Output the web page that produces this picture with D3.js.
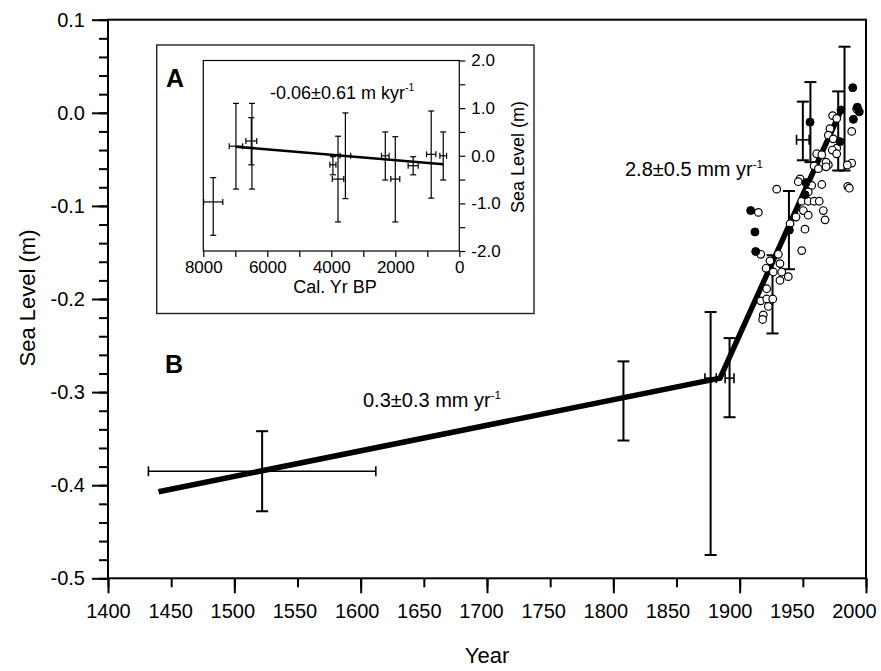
<!DOCTYPE html>
<html><head><meta charset="utf-8">
<script src="https://cdn.jsdelivr.net/npm/d3@7"></script>
<style>
body{margin:0;background:#fff;}
svg{display:block;font-family:"Liberation Sans",Arial,Helvetica,sans-serif;}
</style></head><body>
<svg id="chart" width="881" height="671"></svg>
<script>
// ---------- Main panel (B) data ----------
const openYear  = [1973.6,1976.8,1971.5,1970.2,1974.1,1976.8,1973.3,1992.6,1988.7,1988.7,1961.0,1965.0,1958.9,1962.3,1970.2,1947.8,1968.4,1968.4,1985.2,1985.5,1986.8,1946.4,1929.3,1965.0,1957.0,1954.3,1949.1,1954.3,1958.9,1963.0,1950.4,1954.3,1944.6,1966.2,1967.6,1914.8,1939.9,1951.7,1949.1,1916.7,1924.0,1930.6,1920.9,1931.9,1926.6,1933.3,1938.5,1931.9,1921.4,1916.7,1921.4,1926.2,1922.7,1918.7,1918.2,1976.8];
const openLevel = [-0.003,-0.006,-0.017,-0.024,-0.028,-0.038,-0.040,0.004,-0.020,-0.054,-0.044,-0.045,-0.057,-0.060,-0.056,-0.071,-0.053,-0.058,-0.056,-0.079,-0.081,-0.074,-0.082,-0.077,-0.078,-0.085,-0.095,-0.095,-0.095,-0.095,-0.105,-0.110,-0.112,-0.105,-0.115,-0.107,-0.119,-0.125,-0.148,-0.152,-0.159,-0.152,-0.167,-0.162,-0.171,-0.171,-0.176,-0.180,-0.189,-0.202,-0.200,-0.200,-0.208,-0.217,-0.222,-0.044];
const filledYear  = [1989.5,1993.1,1994.7,1990.0,1980.2,1955.7,1979.4,1908.7,1912.1,1912.7,1952.5,1951.7,1939.3];
const filledLevel = [0.027,0.006,0.001,-0.007,0.003,-0.010,-0.031,-0.105,-0.128,-0.149,-0.075,-0.088,-0.126];

const ebYear    = [1522, 1808, 1877, 1892, 1926, 1939, 1950, 1956, 1978, 1983];
const ebLevel   = [-0.385,-0.309,-0.285,-0.285,-0.195,-0.126,-0.029,-0.010,-0.020,0.005];
const ebLow     = [-0.428,-0.352,-0.475,-0.327,-0.237,-0.168,-0.051,-0.053,-0.062,-0.062];
const ebHigh    = [-0.342,-0.267,-0.214,-0.242,-0.153,-0.084,0.012,0.033,0.023,0.071];
const ebYearErr = [90, 0, 4.5, 3.5, 0, 0, 5, 0, 0, 0];

const trendYear  = [1440, 1884.5, 1981];
const trendLevel = [-0.407, -0.285, 0.005];

const xTickLabels = [1400,1450,1500,1550,1600,1650,1700,1750,1800,1850,1900,1950,2000];
const xMajorTicks = [1400,1500,1600,1700,1800,1900,2000];
const yTickLabels = [-0.5,-0.4,-0.3,-0.2,-0.1,0.0,0.1];

// ---------- Inset (A) data ----------
const insetAge     = [7690, 6980, 6480, 6500, 3950, 3790, 3560, 2313, 2000, 1442, 878, 502];
const insetLevel   = [-0.97, 0.20, 0.20, 0.31, -0.19, -0.49, 0.00, 0.00, -0.49, -0.21, 0.03, 0.00];
const insetAgeErr  = [300, 210, 0, 170, 95, 180, 167, 120, 140, 157, 146, 105];
const insetLow     = [-1.67, -0.70, -0.70, -0.19, -0.40, -1.39, -0.90, -0.51, -1.39, -0.40, -0.89, -0.51];
const insetHigh    = [-0.46, 1.10, 1.10, 0.80, -0.02, 0.41, 0.90, 0.50, 0.40, -0.02, 0.94, 0.50];
const insetTrendAge   = [6980, 500];
const insetTrendLevel = [0.19, -0.18];
const insetXTickLabels = [8000, 6000, 4000, 2000, 0];
const insetXTicks = [8000,7000,6000,5000,4000,3000,2000,1000,0];
const insetYTickLabels = [-2, -1, 0, 1, 2];
const insetYTicks = [-2,-1.5,-1,-0.5,0,0.5,1,1.5,2];

// ---------- Drawing ----------
const svg = d3.select('#chart');
const x = d3.scaleLinear().domain([1400, 2000]).range([108, 866]);
// tick labels in the reference sit on a slightly tighter spacing than the ticks
const xLab = d3.scaleLinear().domain([1400, 2000]).range([108, 854]);
const y = d3.scaleLinear().domain([-0.5, 0.1]).range([578.3, 19.7]);

function styleAxis(g, fs, sw){
  g.select('.domain').remove();
  g.selectAll('.tick line').attr('stroke', '#000').attr('stroke-width', sw);
  g.selectAll('.tick text').attr('fill', '#000').attr('font-size', fs)
    .attr('font-family', '"Liberation Sans",Arial,sans-serif');
}

// x axis: minor ticks, major ticks, labels
const gx0 = svg.append('g').attr('transform', `translate(0,${y(-0.5)})`)
  .call(d3.axisBottom(x).tickValues(xTickLabels).tickSize(9).tickFormat(''));
styleAxis(gx0, 20, 2);
const gx2 = svg.append('g').attr('transform', `translate(0,${y(-0.5)})`)
  .call(d3.axisBottom(x).tickValues(xMajorTicks).tickSize(15).tickFormat(''));
styleAxis(gx2, 20, 2);
const gx1 = svg.append('g').attr('transform', `translate(0,${y(-0.5)})`)
  .call(d3.axisBottom(xLab).tickValues(xTickLabels).tickSize(0).tickPadding(26).tickFormat(d => String(d)));
styleAxis(gx1, 20, 0);
gx1.selectAll('.tick line').remove();

// y axis
const yMinor = d3.range(-25, 6).map(i => +(i * 0.02).toFixed(2));
const gy1 = svg.append('g').attr('transform', `translate(${x(1400)},0)`)
  .call(d3.axisLeft(y).tickValues(yTickLabels).tickSize(16).tickPadding(7).tickFormat(v => v.toFixed(1)));
styleAxis(gy1, 20, 2);
const gy2 = svg.append('g').attr('transform', `translate(${x(1400)},0)`)
  .call(d3.axisLeft(y).tickValues(yMinor).tickSize(9).tickFormat(''));
styleAxis(gy2, 20, 2);

// frame
svg.append('rect').attr('x', x(1400)).attr('y', y(0.1))
  .attr('width', x(2000) - x(1400)).attr('height', y(-0.5) - y(0.1))
  .attr('fill', 'none').attr('stroke', '#000').attr('stroke-width', 2);

// axis titles
svg.append('text').attr('x', 487).attr('y', 663).attr('text-anchor', 'middle')
  .attr('font-size', 22).text('Year');
svg.append('text').attr('transform', 'translate(35,298) rotate(-90)').attr('text-anchor', 'middle')
  .attr('font-size', 22).text('Sea Level (m)');

// main error bars
const eb = svg.append('g').attr('stroke', '#000');
ebYear.forEach((yr, i) => {
  const cx = x(yr);
  eb.append('line').attr('x1', cx).attr('x2', cx).attr('y1', y(ebLow[i])).attr('y2', y(ebHigh[i])).attr('stroke-width', 2);
  [ebLow[i], ebHigh[i]].forEach(v => eb.append('line').attr('x1', cx - 6).attr('x2', cx + 6)
    .attr('y1', y(v)).attr('y2', y(v)).attr('stroke-width', 2));
  if (ebYearErr[i] > 0) {
    const cy = y(ebLevel[i]);
    eb.append('line').attr('x1', x(yr - ebYearErr[i])).attr('x2', x(yr + ebYearErr[i]))
      .attr('y1', cy).attr('y2', cy).attr('stroke-width', 1.6);
    [yr - ebYearErr[i], yr + ebYearErr[i]].forEach(t => eb.append('line').attr('x1', x(t)).attr('x2', x(t))
      .attr('y1', cy - 5).attr('y2', cy + 5).attr('stroke-width', 1.6));
  }
});

// trend line
const line = d3.line().x((d, i) => x(trendYear[i])).y((d, i) => y(trendLevel[i]));
svg.append('path').attr('d', line(trendYear)).attr('fill', 'none').attr('stroke', '#000')
  .attr('stroke-width', 5.5).attr('stroke-linejoin', 'miter');

// circles
svg.append('g').selectAll('circle').data(openYear).join('circle')
  .attr('cx', (d) => x(d)).attr('cy', (d, i) => y(openLevel[i])).attr('r', 3.8)
  .attr('fill', '#fff').attr('stroke', '#000').attr('stroke-width', 1.2);
svg.append('g').selectAll('circle').data(filledYear).join('circle')
  .attr('cx', (d) => x(d)).attr('cy', (d, i) => y(filledLevel[i])).attr('r', 4)
  .attr('fill', '#000').attr('stroke', '#000').attr('stroke-width', 1);

// rate labels
function rateText(g, tx, ty, main, fs) {
  const t = g.append('text').attr('x', tx).attr('y', ty).attr('font-size', fs).attr('fill', '#000');
  t.append('tspan').text(main);
  t.append('tspan').attr('font-size', fs * 0.58).attr('dy', -fs * 0.42).text('-1');
}
rateText(svg, 363, 407, '0.3\u00b10.3 mm yr', 20);
rateText(svg, 625, 176, '2.8\u00b10.5 mm yr', 20);

svg.append('text').attr('x', 165).attr('y', 373).attr('font-size', 25).attr('font-weight', 'bold').text('B');

// ---------- Inset ----------
const ins = svg.append('g');
ins.append('rect').attr('x', 156.7).attr('y', 45).attr('width', 534 - 156.7).attr('height', 313.5 - 45)
  .attr('fill', '#fff').attr('stroke', '#222').attr('stroke-width', 1.4);
const ix = d3.scaleLinear().domain([8000, 0]).range([203.3, 459.3]);
const iy = d3.scaleLinear().domain([-2, 2]).range([251, 60.5]);

ins.append('rect').attr('x', ix(8000)).attr('y', iy(2)).attr('width', ix(0) - ix(8000)).attr('height', iy(-2) - iy(2))
  .attr('fill', 'none').attr('stroke', '#000').attr('stroke-width', 1.2);

const igx = ins.append('g').attr('transform', `translate(0,${iy(-2)})`)
  .call(d3.axisBottom(ix).tickValues(insetXTicks).tickSize(6).tickPadding(4)
    .tickFormat(d => insetXTickLabels.includes(d) ? String(d) : ''));
styleAxis(igx, 17, 1.2);
const igy = ins.append('g').attr('transform', `translate(${ix(0)},0)`)
  .call(d3.axisRight(iy).tickValues(insetYTicks).tickSize(6).tickPadding(6)
    .tickFormat(d => insetYTickLabels.includes(d) ? d.toFixed(1) : ''));
styleAxis(igy, 17, 1.2);

ins.append('text').attr('x', 335).attr('y', 293).attr('text-anchor', 'middle').attr('font-size', 18).text('Cal. Yr BP');
ins.append('text').attr('transform', 'translate(524,157) rotate(-90)').attr('text-anchor', 'middle')
  .attr('font-size', 18).text('Sea Level (m)');
ins.append('text').attr('x', 166).attr('y', 87).attr('font-size', 25).attr('font-weight', 'bold').text('A');

// inset error bars
const ieb = ins.append('g').attr('stroke', '#000').attr('stroke-width', 1.2);
insetAge.forEach((a, i) => {
  const cx = ix(a);
  ieb.append('line').attr('x1', cx).attr('x2', cx).attr('y1', iy(insetLow[i])).attr('y2', iy(insetHigh[i]));
  [insetLow[i], insetHigh[i]].forEach(v => ieb.append('line').attr('x1', cx - 3).attr('x2', cx + 3)
    .attr('y1', iy(v)).attr('y2', iy(v)));
  if (insetAgeErr[i] > 0) {
    const cy = iy(insetLevel[i]);
    ieb.append('line').attr('x1', ix(a + insetAgeErr[i])).attr('x2', ix(a - insetAgeErr[i])).attr('y1', cy).attr('y2', cy);
    [a - insetAgeErr[i], a + insetAgeErr[i]].forEach(t => ieb.append('line').attr('x1', ix(t)).attr('x2', ix(t))
      .attr('y1', cy - 3).attr('y2', cy + 3));
  }
});
const iline = d3.line().x((d, i) => ix(insetTrendAge[i])).y((d, i) => iy(insetTrendLevel[i]));
ins.append('path').attr('d', iline(insetTrendAge)).attr('fill', 'none').attr('stroke', '#000').attr('stroke-width', 2.6);

rateText(ins, 270, 98.5, '-0.06\u00b10.61 m kyr', 18);
</script>
</body></html>
